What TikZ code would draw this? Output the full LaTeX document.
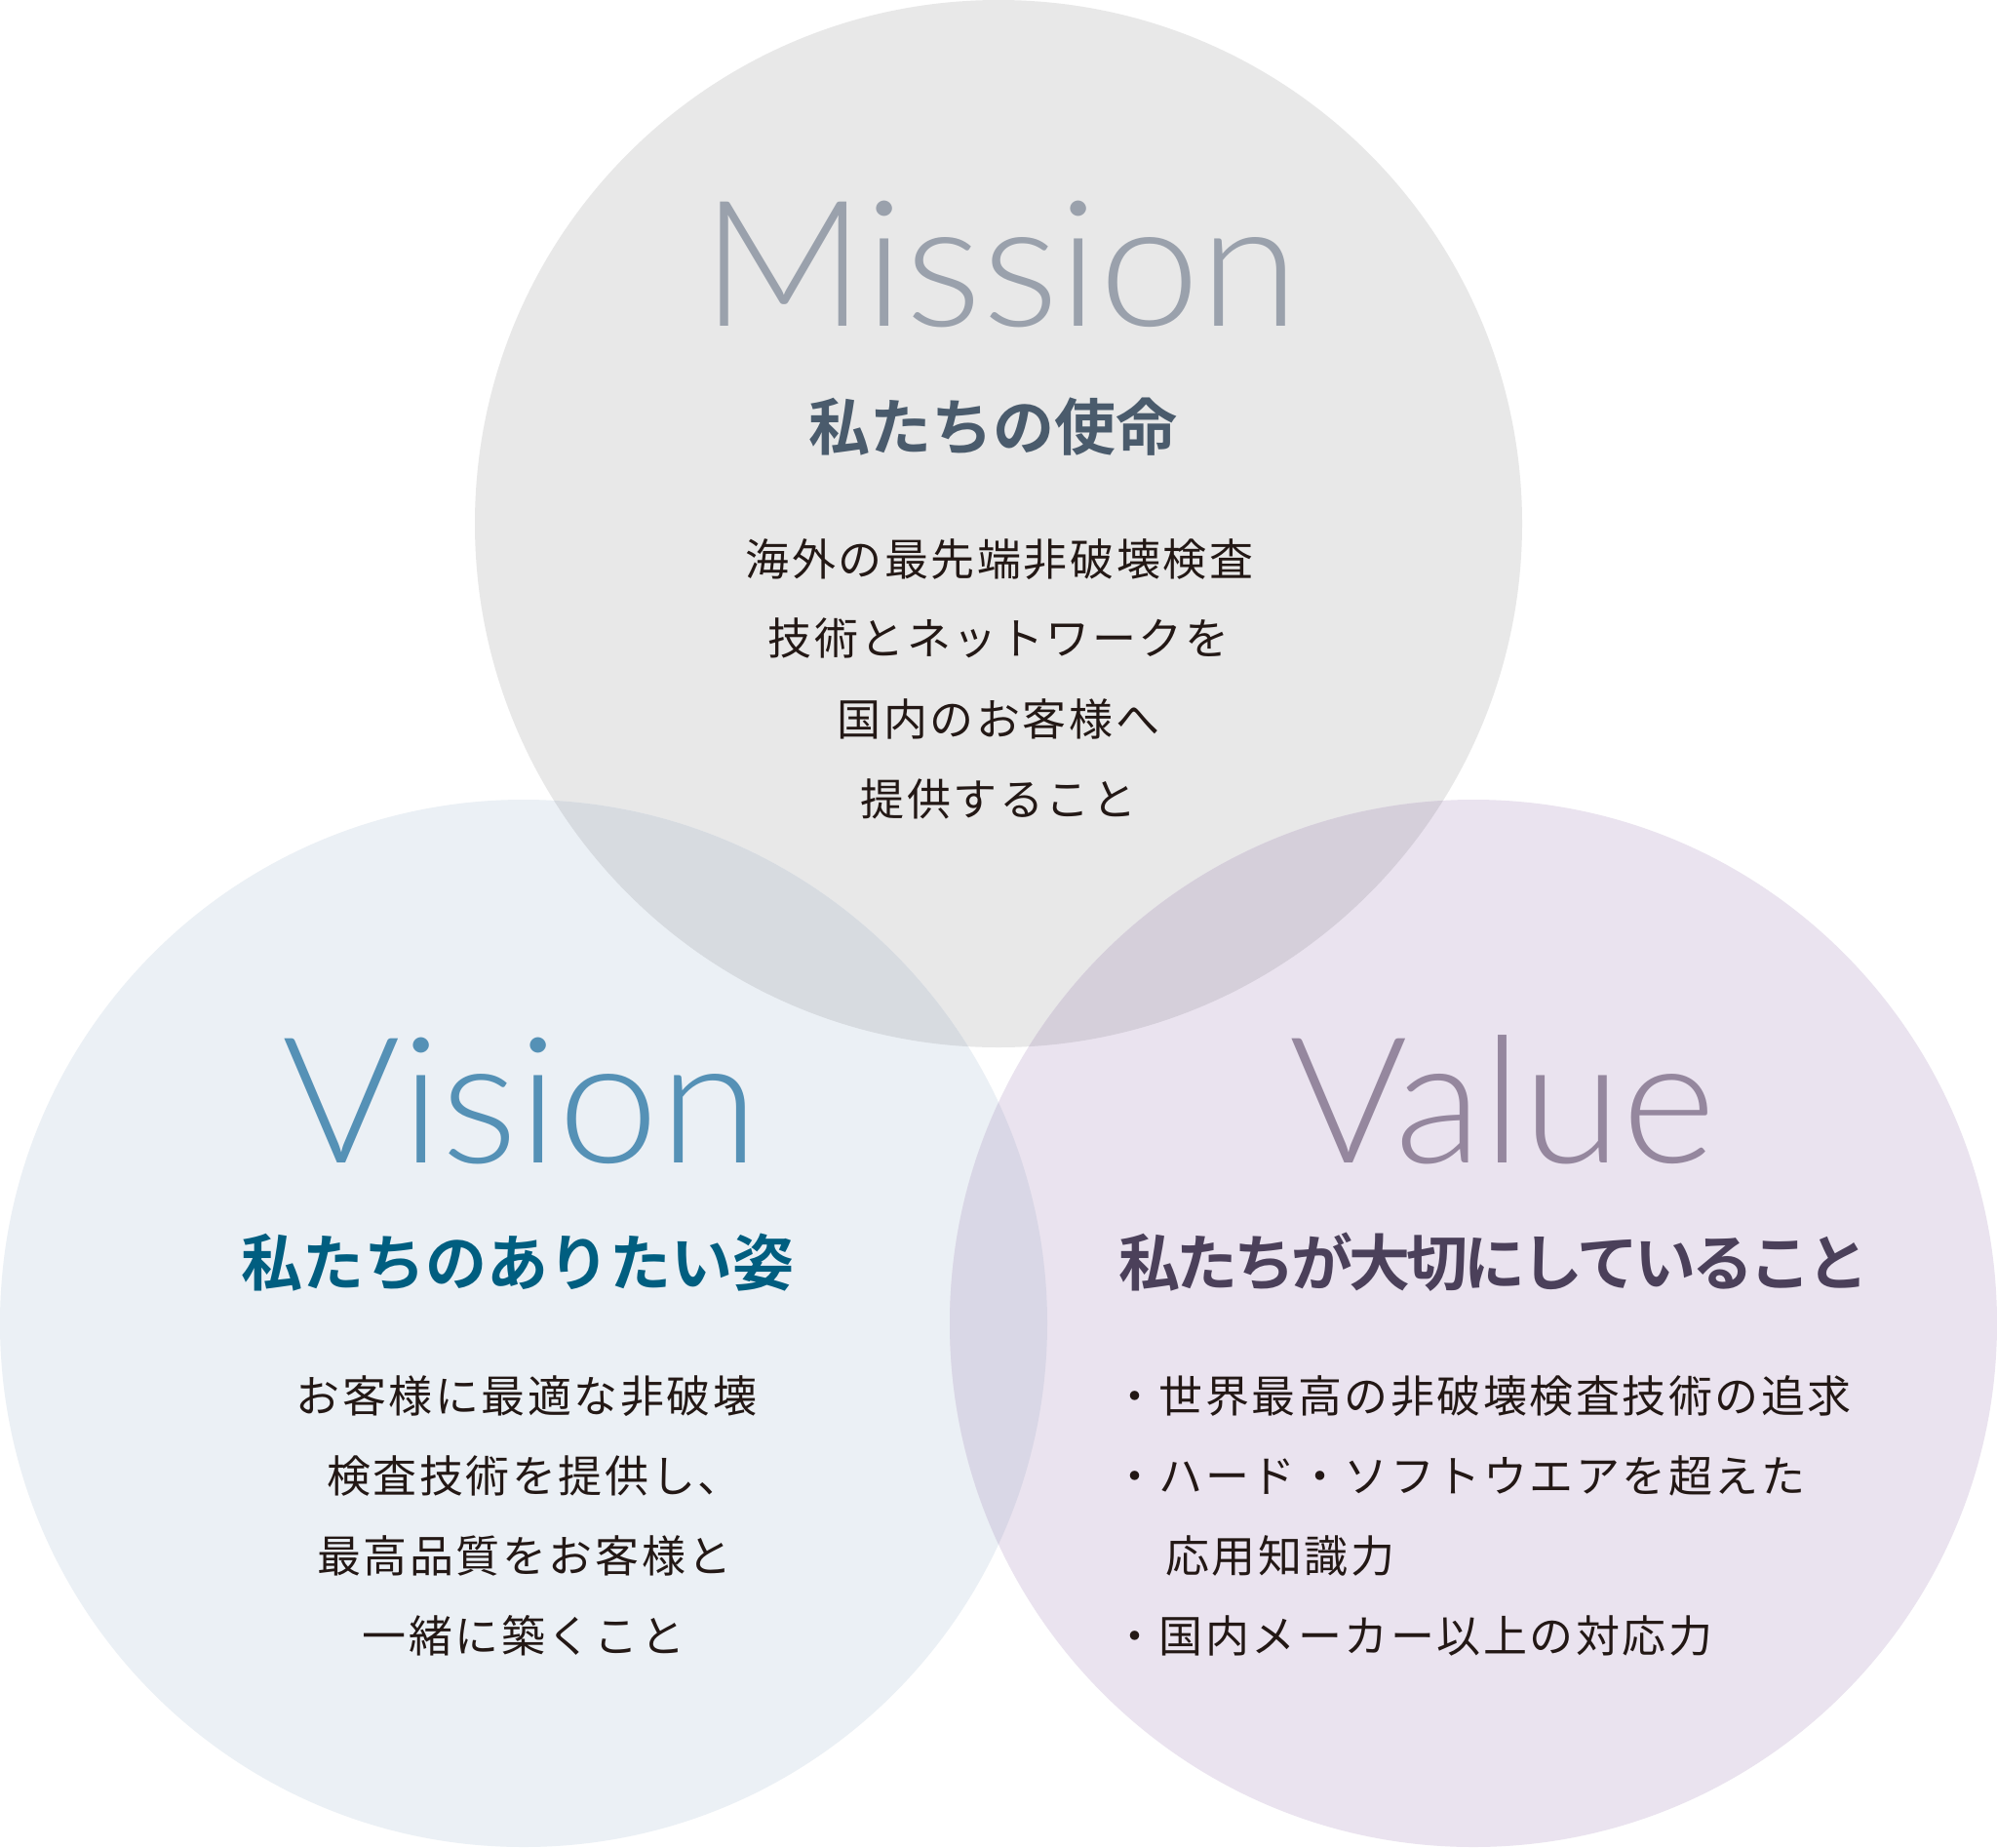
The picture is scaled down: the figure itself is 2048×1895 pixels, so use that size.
\documentclass[tikz,border=0pt]{standalone}
\usepackage{fontspec}
\newfontfamily\titlefont[FakeStretch=1.03]{Lato Light}
\newfontfamily\jpreg[LetterSpace=5.6]{Noto Sans CJK JP}
\newfontfamily\jpbold{Noto Sans CJK JP Bold}
\newfontfamily\jpboldtight[LetterSpace=-6.3]{Noto Sans CJK JP Bold}
\definecolor{mfill}{HTML}{E8E8E8}
\definecolor{vfill}{HTML}{EBF0F5}
\definecolor{lfill}{HTML}{EAE3EF}
\definecolor{mvfill}{HTML}{D7DBE0}
\definecolor{mlfill}{HTML}{D5CFDA}
\definecolor{vlfill}{HTML}{D9D7E6}
\definecolor{mtitle}{HTML}{9AA1AC}
\definecolor{mhead}{HTML}{4A5B6C}
\definecolor{vtitle}{HTML}{5591B6}
\definecolor{vhead}{HTML}{005E80}
\definecolor{ltitle}{HTML}{95879E}
\definecolor{lhead}{HTML}{4B405A}
\definecolor{bodytext}{HTML}{231815}
\tikzset{
  titletext/.style={inner sep=0pt, anchor=base, font=\titlefont\fontsize{180}{200}\selectfont},
  headtext/.style={inner sep=0pt, anchor=base, font=\jpbold\fontsize{63}{70}\selectfont},
  headtight/.style={inner sep=0pt, anchor=base, font=\jpboldtight\fontsize{63}{70}\selectfont},
  bodyline/.style={inner sep=0pt, anchor=base, text=bodytext, font=\jpreg\fontsize{45}{50}\selectfont},
  bulletline/.style={bodyline, anchor=base west}
}
\begin{document}
\begin{tikzpicture}[x=1pt,y=-1pt]
\useasboundingbox (0,0) rectangle (2048,1895);
\fill[white] (0,0) rectangle (2048,1895);
% circles
\fill[mfill] (1024,537) circle (537pt);
\fill[vfill] (537,1357) circle (537pt);
\fill[lfill] (1511,1357) circle (537pt);
% overlaps
\begin{scope}
  \clip (1024,537) circle (537pt);
  \fill[mvfill] (537,1357) circle (537pt);
  \fill[mlfill] (1511,1357) circle (537pt);
\end{scope}
\begin{scope}
  \clip (537,1357) circle (537pt);
  \fill[vlfill] (1511,1357) circle (537pt);
\end{scope}
% Mission
\node[titletext, text=mtitle] (mt) at (1026,334) {Mission};
\node[headtext, text=mhead] (mh) at (1018,461) {私たちの使命};
\node[bodyline] (m1) at (1025,590) {海外の最先端非破壊検査};
\node[bodyline] (m2) at (1024,671) {技術とネットワークを};
\node[bodyline] (m3) at (1024,754) {国内のお客様へ};
\node[bodyline] (m4) at (1024,836) {提供すること};
% Vision
\node[titletext, text=vtitle] (vt) at (534,1192) {Vision};
\node[headtext, text=vhead] (vh) at (531,1318) {私たちのありたい姿};
\node[bodyline] (v1) at (540,1448) {お客様に最適な非破壊};
\node[bodyline] (v2) at (548,1530) {検査技術を提供し、};
\node[bodyline] (v3) at (538,1612) {最高品質をお客様と};
\node[bodyline] (v4) at (537,1694) {一緒に築くこと};
% Value
\node[titletext, text=ltitle] (lt) at (1541,1192) {Value};
\node[headtight, text=lhead] (lh) at (1532,1318) {私たちが大切にしていること};
\node[bulletline] (l1) at (1141,1448) {・世界最高の非破壊検査技術の追求};
\node[bulletline] (l2) at (1141,1530) {・ハード・ソフトウエアを超えた};
\node[bulletline] (l3) at (1195,1612) {応用知識力};
\node[bulletline] (l4) at (1141,1694) {・国内メーカー以上の対応力};
\end{tikzpicture}
\end{document}
